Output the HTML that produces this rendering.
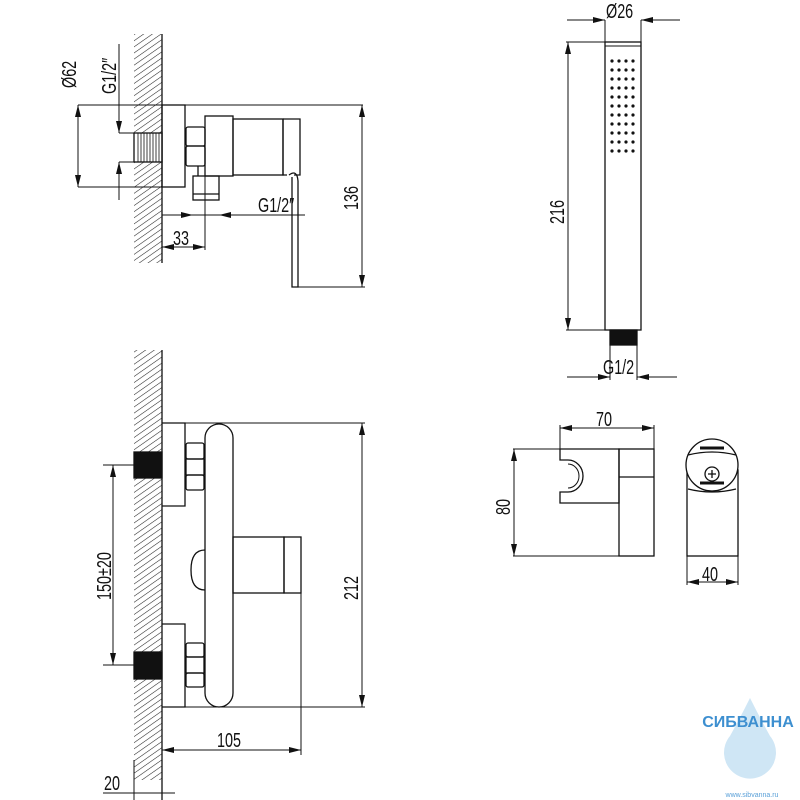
<!DOCTYPE html>
<html><head><meta charset="utf-8"><style>
html,body{margin:0;padding:0;background:#fff}
svg{display:block}
text{font-family:"Liberation Sans","DejaVu Sans",sans-serif;fill:#111}
</style></head><body>
<svg width="800" height="800" viewBox="0 0 800 800" xmlns="http://www.w3.org/2000/svg">
<defs>
<pattern id="h" width="5" height="5" patternUnits="userSpaceOnUse" patternTransform="rotate(55)">
<line x1="0" y1="0" x2="0" y2="5" stroke="#222" stroke-width="1.1"/>
</pattern>
<marker id="a" viewBox="0 0 12 6" refX="12" refY="3" markerWidth="12" markerHeight="6" orient="auto-start-reverse" markerUnits="userSpaceOnUse">
<path d="M0,0 L12,3 L0,6 z" fill="#111"/></marker>
</defs>
<g fill="none" stroke="#111" stroke-width="1.3">
<!-- TOP VIEW -->
<rect x="134" y="34" width="28" height="229" fill="url(#h)" stroke="none"/>
<line x1="162" y1="34" x2="162" y2="263"/>
<line x1="78" y1="105" x2="363" y2="105" stroke-width="1"/>
<line x1="78" y1="187" x2="185" y2="187" stroke-width="1"/>
<rect x="134" y="133" width="28" height="29" fill="#fff"/>
<g stroke-width="0.8"><path d="M138 133v29M141 133v29M144 133v29M147 133v29M150 133v29M153 133v29M156 133v29M159 133v29"/></g>
<line x1="119" y1="133" x2="134" y2="133" stroke-width="1"/>
<line x1="119" y1="162" x2="134" y2="162" stroke-width="1"/>
<rect x="162" y="105" width="23" height="82"/>
<rect x="186" y="127" width="19" height="19" rx="2"/>
<rect x="186" y="146" width="19" height="20" rx="2"/>
<rect x="205" y="116" width="28" height="60"/>
<rect x="233" y="119" width="50" height="56"/>
<path d="M283 119h17v56h-6M283 119v56h4"/>
<path d="M289 175q8-6 9 6v106h-6v-110"/>
<rect x="193" y="176" width="26" height="24"/>
<line x1="193" y1="194" x2="219" y2="194"/>
<line x1="198" y1="166" x2="198" y2="176"/>
<line x1="78" y1="105" x2="78" y2="187" stroke-width="1" marker-start="url(#a)" marker-end="url(#a)"/>
<line x1="119" y1="44" x2="119" y2="133" stroke-width="1" marker-end="url(#a)"/>
<line x1="119" y1="200" x2="119" y2="162" stroke-width="1" marker-end="url(#a)"/>
<line x1="162" y1="215" x2="305" y2="215" stroke-width="1"/>
<line x1="162" y1="215" x2="193" y2="215" stroke-width="1" marker-end="url(#a)"/>
<line x1="250" y1="215" x2="219" y2="215" stroke-width="1" marker-end="url(#a)"/>
<line x1="205" y1="176" x2="205" y2="250" stroke-width="1"/>
<line x1="162" y1="247" x2="205" y2="247" stroke-width="1" marker-start="url(#a)" marker-end="url(#a)"/>
<line x1="298" y1="287" x2="365" y2="287" stroke-width="1"/>
<line x1="362" y1="105" x2="362" y2="287" stroke-width="1" marker-start="url(#a)" marker-end="url(#a)"/>
<!-- FRONT VIEW -->
<rect x="134" y="350" width="28" height="430" fill="url(#h)" stroke="none"/>
<line x1="162" y1="350" x2="162" y2="800"/>
<line x1="134" y1="760" x2="134" y2="800" stroke-width="1"/>
<line x1="162" y1="423" x2="365" y2="423" stroke-width="1"/>
<line x1="162" y1="707" x2="365" y2="707" stroke-width="1"/>
<rect x="134" y="452" width="28" height="26" fill="#111"/>
<rect x="134" y="652" width="28" height="27" fill="#111"/>
<line x1="103" y1="465" x2="134" y2="465" stroke-width="1"/>
<line x1="103" y1="665" x2="134" y2="665" stroke-width="1"/>
<path d="M162 423h23v83h-23M162 624h23v83h-23"/>
<rect x="186" y="443" width="18" height="16" rx="2"/><rect x="186" y="459" width="18" height="16"/><rect x="186" y="475" width="18" height="15" rx="2"/>
<rect x="186" y="643" width="18" height="14" rx="2"/><rect x="186" y="657" width="18" height="16"/><rect x="186" y="673" width="18" height="14" rx="2"/>
<path d="M205 550q-14 0-14 20q0 20 14 20"/>
<rect x="205" y="424" width="28" height="283" rx="14"/>
<rect x="233" y="537" width="51" height="56"/>
<rect x="284" y="537" width="17" height="56"/>
<line x1="113" y1="465" x2="113" y2="665" stroke-width="1" marker-start="url(#a)" marker-end="url(#a)"/>
<line x1="362" y1="423" x2="362" y2="707" stroke-width="1" marker-start="url(#a)" marker-end="url(#a)"/>
<line x1="301" y1="593" x2="301" y2="755" stroke-width="1"/>
<line x1="162" y1="750" x2="301" y2="750" stroke-width="1" marker-start="url(#a)" marker-end="url(#a)"/>
<line x1="103" y1="793" x2="175" y2="793" stroke-width="1"/>
<!-- HAND SHOWER -->
<rect x="605" y="42" width="36" height="288"/>
<line x1="605" y1="46" x2="641" y2="46" stroke-width="1"/>
<rect x="610" y="330" width="27" height="15" fill="#111"/>
<line x1="605" y1="20" x2="605" y2="42" stroke-width="1"/>
<line x1="641" y1="20" x2="641" y2="42" stroke-width="1"/>
<line x1="567" y1="20" x2="605" y2="20" stroke-width="1" marker-end="url(#a)"/>
<line x1="680" y1="20" x2="641" y2="20" stroke-width="1" marker-end="url(#a)"/>
<line x1="566" y1="42" x2="605" y2="42" stroke-width="1"/>
<line x1="566" y1="330" x2="605" y2="330" stroke-width="1"/>
<line x1="568" y1="42" x2="568" y2="330" stroke-width="1" marker-start="url(#a)" marker-end="url(#a)"/>
<line x1="610" y1="345" x2="610" y2="380" stroke-width="1"/>
<line x1="637" y1="345" x2="637" y2="380" stroke-width="1"/>
<line x1="567" y1="377" x2="610" y2="377" stroke-width="1" marker-end="url(#a)"/>
<line x1="677" y1="377" x2="637" y2="377" stroke-width="1" marker-end="url(#a)"/>
<!-- HOLDER -->
<line x1="513" y1="449" x2="560" y2="449" stroke-width="1"/>
<line x1="513" y1="556" x2="619" y2="556" stroke-width="1"/>
<path d="M560 449H619V503H560V492H568A15 16 0 0 0 568 460H560Z"/>
<path d="M568 464A11 12 0 0 1 568 488" stroke-width="1"/>
<rect x="619" y="449" width="35" height="107"/>
<line x1="619" y1="477" x2="654" y2="477"/>
<line x1="560" y1="425" x2="560" y2="449" stroke-width="1"/>
<line x1="654" y1="425" x2="654" y2="449" stroke-width="1"/>
<line x1="560" y1="428" x2="654" y2="428" stroke-width="1" marker-start="url(#a)" marker-end="url(#a)"/>
<line x1="514" y1="449" x2="514" y2="556" stroke-width="1" marker-start="url(#a)" marker-end="url(#a)"/>
<rect x="687" y="470" width="51" height="86"/>
<circle cx="712" cy="465" r="26" fill="#fff"/>
<path d="M688 455q24-6 48 0M688 489q24 6 48 0"/>
<path d="M700 448h24M700 483h24" stroke-width="3"/>
<circle cx="712" cy="474" r="7"/>
<path d="M708 474h8M712 470v8"/>
<line x1="687" y1="556" x2="687" y2="585" stroke-width="1"/>
<line x1="738" y1="556" x2="738" y2="585" stroke-width="1"/>
<line x1="687" y1="582" x2="738" y2="582" stroke-width="1" marker-start="url(#a)" marker-end="url(#a)"/>
</g>
<g fill="#111">
<circle cx="612" cy="61" r="1.6"/><circle cx="619" cy="61" r="1.6"/><circle cx="626" cy="61" r="1.6"/><circle cx="633" cy="61" r="1.6"/>
<circle cx="612" cy="70" r="1.6"/><circle cx="619" cy="70" r="1.6"/><circle cx="626" cy="70" r="1.6"/><circle cx="633" cy="70" r="1.6"/>
<circle cx="612" cy="79" r="1.6"/><circle cx="619" cy="79" r="1.6"/><circle cx="626" cy="79" r="1.6"/><circle cx="633" cy="79" r="1.6"/>
<circle cx="612" cy="88" r="1.6"/><circle cx="619" cy="88" r="1.6"/><circle cx="626" cy="88" r="1.6"/><circle cx="633" cy="88" r="1.6"/>
<circle cx="612" cy="97" r="1.6"/><circle cx="619" cy="97" r="1.6"/><circle cx="626" cy="97" r="1.6"/><circle cx="633" cy="97" r="1.6"/>
<circle cx="612" cy="106" r="1.6"/><circle cx="619" cy="106" r="1.6"/><circle cx="626" cy="106" r="1.6"/><circle cx="633" cy="106" r="1.6"/>
<circle cx="612" cy="115" r="1.6"/><circle cx="619" cy="115" r="1.6"/><circle cx="626" cy="115" r="1.6"/><circle cx="633" cy="115" r="1.6"/>
<circle cx="612" cy="124" r="1.6"/><circle cx="619" cy="124" r="1.6"/><circle cx="626" cy="124" r="1.6"/><circle cx="633" cy="124" r="1.6"/>
<circle cx="612" cy="133" r="1.6"/><circle cx="619" cy="133" r="1.6"/><circle cx="626" cy="133" r="1.6"/><circle cx="633" cy="133" r="1.6"/>
<circle cx="612" cy="142" r="1.6"/><circle cx="619" cy="142" r="1.6"/><circle cx="626" cy="142" r="1.6"/><circle cx="633" cy="142" r="1.6"/>
<circle cx="612" cy="151" r="1.6"/><circle cx="619" cy="151" r="1.6"/><circle cx="626" cy="151" r="1.6"/><circle cx="633" cy="151" r="1.6"/>
</g>
<g font-size="20">
<text transform="translate(76,88) rotate(-90) scale(0.72,1)">Ø62</text>
<text transform="translate(116,94) rotate(-90) scale(0.72,1)">G1/2″</text>
<text transform="translate(258,212) scale(0.72,1)">G1/2″</text>
<text transform="translate(173,245) scale(0.72,1)">33</text>
<text transform="translate(358,210) rotate(-90) scale(0.72,1)">136</text>
<text transform="translate(111,600) rotate(-90) scale(0.72,1)">150±20</text>
<text transform="translate(358,600) rotate(-90) scale(0.72,1)">212</text>
<text transform="translate(217,747) scale(0.72,1)">105</text>
<text transform="translate(104,790) scale(0.72,1)">20</text>
<text transform="translate(606,18) scale(0.72,1)">Ø26</text>
<text transform="translate(564,224) rotate(-90) scale(0.72,1)">216</text>
<text transform="translate(603,374) scale(0.72,1)">G1/2</text>
<text transform="translate(596,426) scale(0.72,1)">70</text>
<text transform="translate(510,515) rotate(-90) scale(0.72,1)">80</text>
<text transform="translate(702,581) scale(0.72,1)">40</text>
</g>
<path d="M750 698q-10 20-20 38a26 26 0 1 0 40 0q-10-18-20-38z" fill="#cfe6f5"/>
<text x="748" y="727" font-size="16" font-weight="bold" text-anchor="middle" style="fill:#3d8fd0">СИБВАННА</text>
<text x="752" y="797" font-size="7" text-anchor="middle" style="fill:#5aa0d8">www.sibvanna.ru</text>
</svg>
</body></html>
